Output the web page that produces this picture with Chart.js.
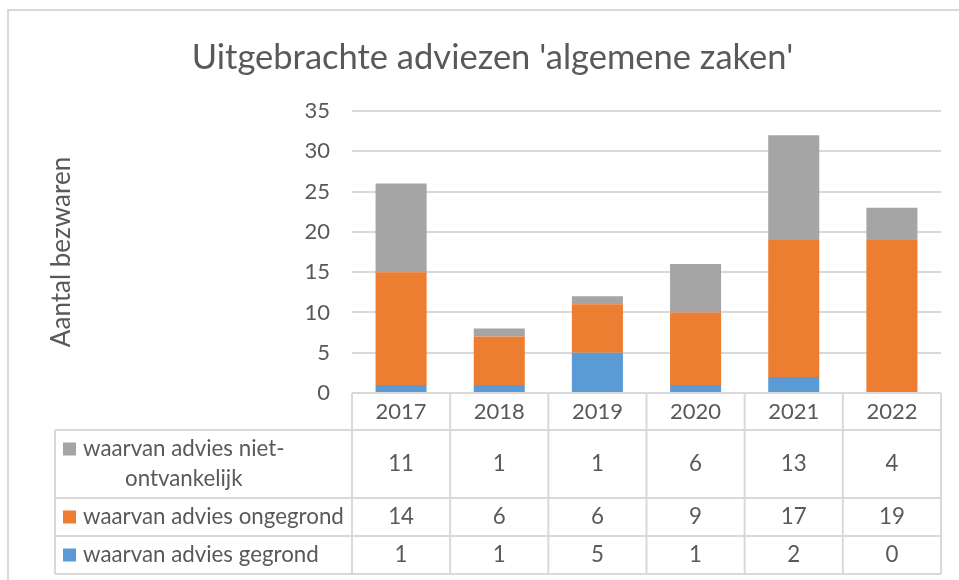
<!DOCTYPE html>
<html><head><meta charset="utf-8">
<script src="https://cdn.jsdelivr.net/npm/chart.js@4/dist/chart.umd.min.js"></script>
<style>html,body{margin:0;padding:0;background:#fff;} #wrap{width:959px;height:580px;position:relative}</style>
</head><body><div id="wrap"><canvas id="c" width="959" height="580"></canvas></div>
<script>
const categories = ['2017', '2018', '2019', '2020', '2021', '2022'];
const gegrond = [1, 1, 5, 1, 2, 0];
const ongegrond = [14, 6, 6, 9, 17, 19];
const nietOntvankelijk = [11, 1, 1, 6, 13, 4];
const seriesNames = ['waarvan advies gegrond', 'waarvan advies ongegrond', 'waarvan advies niet-ontvankelijk'];
const seriesColors = ['#5B9BD5', '#ED7D31', '#A5A5A5'];
const yTickMin = 0, yTickMax = 35, yTickStep = 5;
const chartTitle = "Uitgebrachte adviezen 'algemene zaken'";
const yAxisTitle = 'Aantal bezwaren';

const TXT = '#595959';
const LINE = '#D9D9D9';
const FONT = 'Lato, "Liberation Sans", sans-serif';

function wrapText(ctx, text, maxW) {
  if (ctx.measureText(text).width <= maxW) return [text];
  let best = -1;
  for (let i = 0; i < text.length; i++) {
    const ch = text[i];
    if (ch === '-' || ch === ' ') {
      const part = text.slice(0, ch === '-' ? i + 1 : i);
      if (ctx.measureText(part).width <= maxW) best = i;
    }
  }
  if (best < 0) return [text];
  const first = text.slice(0, text[best] === '-' ? best + 1 : best);
  const rest = text.slice(best + 1).trim();
  return [first].concat(wrapText(ctx, rest, maxW));
}

const bgPlugin = {
  id: 'bg',
  beforeDraw(chart) {
    const ctx = chart.ctx;
    ctx.save();
    ctx.fillStyle = '#fff';
    ctx.fillRect(0, 0, chart.width, chart.height);
    ctx.strokeStyle = LINE;
    ctx.lineWidth = 2;
    ctx.beginPath();
    ctx.moveTo(8, chart.height);
    ctx.lineTo(8, 10);
    ctx.lineTo(chart.width, 10);
    ctx.stroke();
    ctx.restore();
  }
};

const tablePlugin = {
  id: 'dataTable',
  afterDraw(chart) {
    const ctx = chart.ctx;
    const ca = chart.chartArea;
    const x = chart.scales.x;
    const n = categories.length;
    const colW = (ca.right - ca.left) / n;
    const tableLeft = 55;
    const headerTop = ca.bottom;
    const headerBottom = x.bottom;
    ctx.save();
    ctx.font = '22.3px ' + FONT;
    const rows = chart.data.datasets.slice().reverse().map(ds => {
      const lines = wrapText(ctx, ds.label, 264);
      return { ds, lines, h: 38 + (lines.length - 1) * 30 };
    });
    let y = headerBottom;
    rows.forEach(r => { r.top = y; y += r.h; r.bottom = y; });
    const tableBottom = y;

    ctx.strokeStyle = LINE;
    ctx.lineWidth = 2;
    ctx.beginPath();
    ctx.moveTo(ca.left, headerTop); ctx.lineTo(ca.right, headerTop);
    ctx.moveTo(tableLeft, headerBottom); ctx.lineTo(ca.right, headerBottom);
    rows.forEach(r => { ctx.moveTo(tableLeft, r.bottom); ctx.lineTo(ca.right, r.bottom); });
    ctx.moveTo(tableLeft, headerBottom); ctx.lineTo(tableLeft, tableBottom);
    for (let i = 0; i <= n; i++) {
      const xx = ca.left + i * colW;
      ctx.moveTo(xx, headerTop); ctx.lineTo(xx, tableBottom);
    }
    ctx.stroke();

    ctx.fillStyle = TXT;
    ctx.textBaseline = 'middle';
    rows.forEach(r => {
      const mid = (r.top + r.bottom) / 2;
      const lh = 30;
      const firstY = mid - (r.lines.length - 1) * lh / 2;
      ctx.fillStyle = r.ds.backgroundColor;
      ctx.fillRect(63, firstY - 6.5, 13, 13);
      ctx.fillStyle = TXT;
      const widths = r.lines.map(l => ctx.measureText(l).width);
      const blockW = Math.max.apply(null, widths);
      ctx.textAlign = 'center';
      r.lines.forEach((l, k) => ctx.fillText(l, 83 + blockW / 2, firstY + k * lh));
      r.ds.data.forEach((v, i) => {
        ctx.fillText(String(v), x.getPixelForValue(i), mid);
      });
    });
    ctx.restore();
  }
};

const datasets = [gegrond, ongegrond, nietOntvankelijk].map((vals, i) => ({
  label: seriesNames[i],
  data: vals,
  backgroundColor: seriesColors[i],
  borderWidth: 0,
  barPercentage: 0.52,
  categoryPercentage: 1
}));

new Chart(document.getElementById('c'), {
  type: 'bar',
  data: { labels: categories, datasets },
  plugins: [bgPlugin, tablePlugin],
  options: {
    responsive: false,
    animation: false,
    layout: { padding: { left: 44, right: 18, top: 0, bottom: 150 } },
    plugins: {
      legend: { display: false },
      tooltip: { enabled: false },
      title: {
        display: true, text: chartTitle, color: TXT,
        font: { family: FONT, size: 34.5, weight: 'normal' },
        padding: { top: 37, bottom: 32.6 }
      }
    },
    scales: {
      x: {
        stacked: true,
        grid: { display: false, drawTicks: false },
        border: { display: false },
        ticks: { color: TXT, font: { family: FONT, size: 22 }, padding: 6 },
        afterFit(s) { s.height = 37; }
      },
      y: {
        stacked: true,
        min: yTickMin, max: yTickMax,
        grid: { color: LINE, lineWidth: 2, drawTicks: false },
        border: { display: false },
        ticks: { stepSize: yTickStep, color: TXT, font: { family: FONT, size: 22 }, padding: 22 },
        title: { display: true, text: yAxisTitle, color: TXT, font: { family: FONT, size: 26 }, padding: { top: 2 } },
        afterFit(s) { s.width = 308; }
      }
    }
  }
});
</script>
</body></html>
